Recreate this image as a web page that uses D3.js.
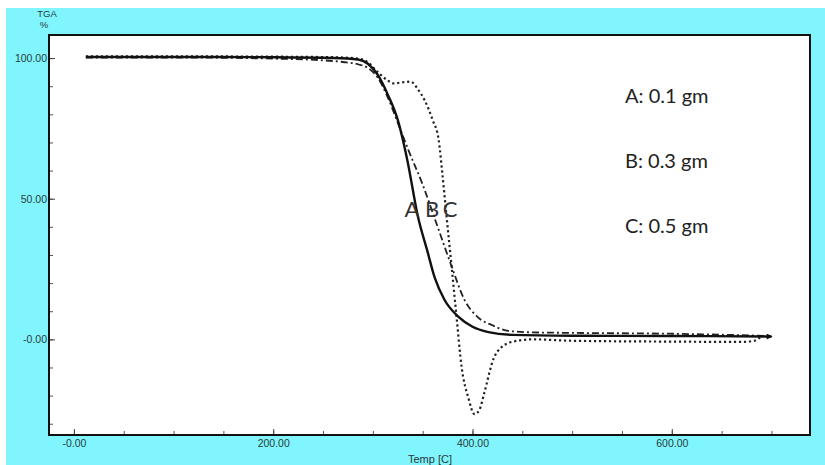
<script src="https://cdn.jsdelivr.net/npm/d3@7"></script>
<style>
  body { margin: 0; background: #fff; }
</style>
<div id="tga_chart"></div>
<script>
// sample curves, temperature (C) vs weight (%)
var tempA = [12, 100, 200, 260, 285, 295, 305, 315, 325, 335, 345, 355, 362, 372, 386, 400, 416, 440, 500, 600, 700];
var wtA   = [100.4, 100.4, 100.3, 100.0, 99.5, 98, 94, 87, 78, 63, 44, 31, 22, 14, 8, 4.5, 2.6, 1.6, 1.3, 1.2, 1.0];

var tempB = [12, 100, 200, 250, 270, 285, 295, 305, 315, 325, 336, 350, 365, 379, 392, 405, 420, 436, 460, 500, 600, 700];
var wtB   = [100.2, 100.2, 99.8, 99.2, 98.6, 97.8, 96.5, 93, 86, 77, 67, 55, 40, 26, 14, 8, 5, 3, 2.5, 2.3, 2.0, 1.2];

var tempC = [12, 100, 200, 260, 285, 293, 305, 315, 321, 330, 338, 345, 352, 360, 366, 370, 374, 379, 384, 389, 396, 402, 407, 412, 421, 429, 442, 460, 500, 600, 670, 683, 690];
var wtC   = [100.6, 100.6, 100.5, 100.3, 99.8, 99, 95, 92, 91, 91.4, 91.6, 89, 85, 78, 71, 58, 43.6, 26, 8, -9.6, -21, -26.6, -25, -18.8, -7, -2.8, -0.7, 0, -0.5, -0.8, -0.9, -0.5, 1.2];

var yMajor = [100, 50, 0];
var yMajorLabels = ["100.00", "50.00", "-0.00"];
var xMajor = [0, 200, 400, 600];
var xMajorLabels = ["-0.00", "200.00", "400.00", "600.00"];

var legendLines = ["A: 0.1 gm", "B: 0.3 gm", "C: 0.5 gm"];
var curveNames = ["A", "B", "C"];

var W = 825, H = 465;
var plot = {left: 49, top: 35, right: 810, bottom: 435};
var axisFont = "Liberation Sans Narrow, Liberation Sans, Arial";

var svg = d3.select("#tga_chart").append("svg")
    .attr("width", W).attr("height", H);

// cyan frame with thin white strip top/left
svg.append("rect").attr("x", 0).attr("y", 0).attr("width", W).attr("height", H).attr("fill", "#fff");
svg.append("rect").attr("x", 6).attr("y", 8).attr("width", W - 6).attr("height", H - 8).attr("fill", "#80f5fd");

var xScale = d3.scaleLinear().domain([-25, 738.7]).range([plot.left, plot.right]);
var yScale = d3.scaleLinear().domain([108.2, -34]).range([plot.top, plot.bottom]);

svg.append("rect")
    .attr("x", plot.left).attr("y", plot.top)
    .attr("width", plot.right - plot.left).attr("height", plot.bottom - plot.top)
    .attr("fill", "#fff");

// minor ticks
var yMinor = d3.range(-30, 101, 10);
var xMinor = d3.range(0, 701, 50);

svg.append("g").attr("transform", "translate(" + plot.left + ",0)")
    .call(d3.axisLeft(yScale).tickValues(yMinor).tickSize(-4).tickFormat(""))
    .call(g => g.select(".domain").remove())
    .selectAll("line").attr("stroke", "#555");

svg.append("g").attr("transform", "translate(0," + plot.bottom + ")")
    .call(d3.axisBottom(xScale).tickValues(xMinor).tickSize(-4).tickFormat(""))
    .call(g => g.select(".domain").remove())
    .selectAll("line").attr("stroke", "#555");

// major ticks with labels
var yAx = svg.append("g").attr("transform", "translate(" + plot.left + ",0)")
    .call(d3.axisLeft(yScale).tickValues(yMajor).tickSize(-6).tickPadding(2)
        .tickFormat((d, i) => yMajorLabels[i]));
yAx.select(".domain").remove();
yAx.selectAll("line").attr("stroke", "#444");
yAx.selectAll("text").attr("font-family", axisFont)
    .attr("font-size", 10.5).attr("fill", "#2a3a3a");

var xAx = svg.append("g").attr("transform", "translate(0," + plot.bottom + ")")
    .call(d3.axisBottom(xScale).tickValues(xMajor).tickSize(-6).tickPadding(5)
        .tickFormat((d, i) => xMajorLabels[i]));
xAx.select(".domain").remove();
xAx.selectAll("line").attr("stroke", "#444");
xAx.selectAll("text").attr("font-family", axisFont)
    .attr("font-size", 10.5).attr("fill", "#2a3a3a");

// plot border
svg.append("rect")
    .attr("x", plot.left).attr("y", plot.top)
    .attr("width", plot.right - plot.left).attr("height", plot.bottom - plot.top)
    .attr("fill", "none").attr("stroke", "#111").attr("stroke-width", 2);

// axis titles
svg.append("text").attr("x", 47).attr("y", 17).attr("text-anchor", "middle")
    .attr("font-family", axisFont).attr("font-size", 9.5)
    .attr("fill", "#2a3a3a").text("TGA");
svg.append("text").attr("x", 44).attr("y", 28).attr("text-anchor", "middle")
    .attr("font-family", axisFont).attr("font-size", 9.5)
    .attr("fill", "#2a3a3a").text("%");
svg.append("text").attr("x", 430).attr("y", 463).attr("text-anchor", "middle")
    .attr("font-family", axisFont).attr("font-size", 11)
    .attr("fill", "#2a3a3a").text("Temp [C]");

// arrow marker at the end of the curves
var defs = svg.append("defs");
defs.append("marker")
    .attr("id", "endArrow")
    .attr("viewBox", "0 -5 10 10")
    .attr("refX", 8).attr("refY", 0)
    .attr("markerWidth", 3.5).attr("markerHeight", 2.5)
    .attr("orient", "auto")
    .append("path").attr("d", "M0,-5 L10,0 L0,5").attr("fill", "#111");

var line = d3.line()
    .x(d => xScale(d[0]))
    .y(d => yScale(d[1]))
    .curve(d3.curveMonotoneX);

var curves = svg.append("g");

curves.append("path")
    .datum(d3.zip(tempC, wtC))
    .attr("d", line)
    .attr("fill", "none").attr("stroke", "#222").attr("stroke-width", 2.2)
    .attr("stroke-dasharray", "2.2,2.8");

curves.append("path")
    .datum(d3.zip(tempB, wtB))
    .attr("d", line)
    .attr("fill", "none").attr("stroke", "#222").attr("stroke-width", 1.8)
    .attr("stroke-dasharray", "7,3,2,3");

curves.append("path")
    .datum(d3.zip(tempA, wtA))
    .attr("d", line)
    .attr("fill", "none").attr("stroke", "#111").attr("stroke-width", 2.4)
    .attr("marker-end", "url(#endArrow)");

// curve letters
var letterX = [412, 432, 450];
svg.selectAll(".curveName").data(curveNames).enter().append("text")
    .attr("class", "curveName")
    .attr("x", (d, i) => letterX[i]).attr("y", 217)
    .attr("text-anchor", "middle")
    .attr("font-family", "Lato, Open Sans, sans-serif").attr("font-size", 22)
    .attr("fill", "#333").text(d => d);

// legend text
svg.selectAll(".legendText").data(legendLines).enter().append("text")
    .attr("class", "legendText")
    .attr("x", 625).attr("y", (d, i) => 103 + i * 65)
    .attr("font-family", "Lato, Open Sans, sans-serif").attr("font-size", 20)
    .attr("fill", "#222").text(d => d);
</script>
